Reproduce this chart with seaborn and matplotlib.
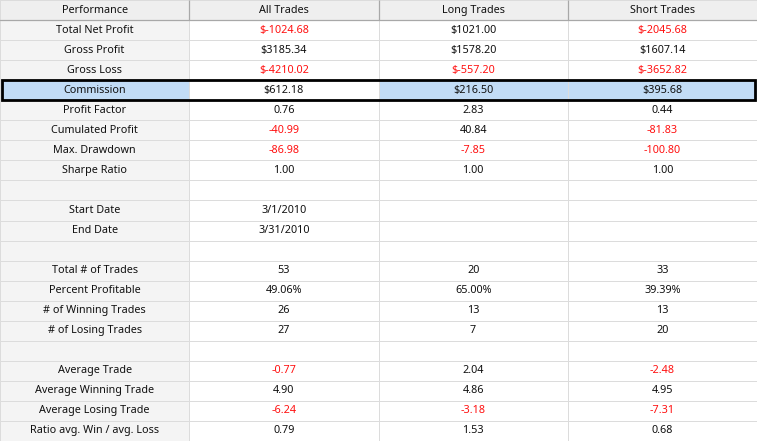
import numpy as np
import pandas as pd
import matplotlib
matplotlib.use("Agg")
import matplotlib.pyplot as plt
from matplotlib.colors import ListedColormap
from matplotlib.patches import Rectangle
import seaborn as sns

columns = ["Performance", "All Trades", "Long Trades", "Short Trades"]
metrics = ["Total Net Profit", "Gross Profit", "Gross Loss", "Commission",
           "Profit Factor", "Cumulated Profit", "Max. Drawdown", "Sharpe Ratio", "",
           "Start Date", "End Date", "",
           "Total # of Trades", "Percent Profitable", "# of Winning Trades",
           "# of Losing Trades", "",
           "Average Trade", "Average Winning Trade", "Average Losing Trade",
           "Ratio avg. Win / avg. Loss"]
all_trades = ["$-1024.68", "$3185.34", "$-4210.02", "$612.18", "0.76", "-40.99",
              "-86.98", "1.00", "", "3/1/2010", "3/31/2010", "", "53", "49.06%",
              "26", "27", "", "-0.77", "4.90", "-6.24", "0.79"]
long_trades = ["$1021.00", "$1578.20", "$-557.20", "$216.50", "2.83", "40.84",
               "-7.85", "1.00", "", "", "", "", "20", "65.00%", "13", "7", "",
               "2.04", "4.86", "-3.18", "1.53"]
short_trades = ["$-2045.68", "$1607.14", "$-3652.82", "$395.68", "0.44", "-81.83",
                "-100.80", "1.00", "", "", "", "", "33", "39.39%", "13", "20", "",
                "-2.48", "4.95", "-7.31", "0.68"]
selected = "Commission"

df = pd.DataFrame({"Performance": metrics, "All Trades": all_trades,
                   "Long Trades": long_trades, "Short Trades": short_trades})
table = pd.concat([pd.DataFrame([columns], columns=columns), df], ignore_index=True)

# background codes: 0 white, 1 label column, 2 header, 3 selection
bg = np.zeros(table.shape)
bg[:, 0] = 1
bg[0, :] = 2
sel_row = metrics.index(selected) + 1
bg[sel_row, [0, 2, 3]] = 3

sns.set_style("white")
plt.rcParams["font.family"] = ["Noto Sans", "DejaVu Sans"]

fig = plt.figure(figsize=(7.58, 4.43), dpi=100)
ax = fig.add_axes([0, 2 / 443, 757 / 758, 441 / 443])
cmap = ListedColormap(["#ffffff", "#f4f4f4", "#efefef", "#c2dcf6"])
sns.heatmap(bg, ax=ax, cmap=cmap, vmin=-0.5, vmax=3.5, cbar=False,
            linewidths=0.7, linecolor="#dcdcdc", xticklabels=False, yticklabels=False)

# header borders
ax.axhline(1, color="#a8a8a8", lw=0.9)
ax.vlines(range(1, table.shape[1]), 0, 1, color="#a8a8a8", lw=0.9)

for i in range(table.shape[0]):
    for j in range(table.shape[1]):
        s = table.iat[i, j]
        if not s:
            continue
        red = i > 0 and j > 0 and s.lstrip("$").startswith("-")
        ax.text(j + 0.5, i + 0.5, s, ha="center", va="center", fontsize=7.8,
                color="#ff1010" if red else "#111111")

ax.add_patch(Rectangle((0.01, sel_row), table.shape[1] - 0.02, 1, fill=False,
                       edgecolor="black", lw=2, zorder=5, clip_on=False))

fig.savefig("out.png", dpi=100)
